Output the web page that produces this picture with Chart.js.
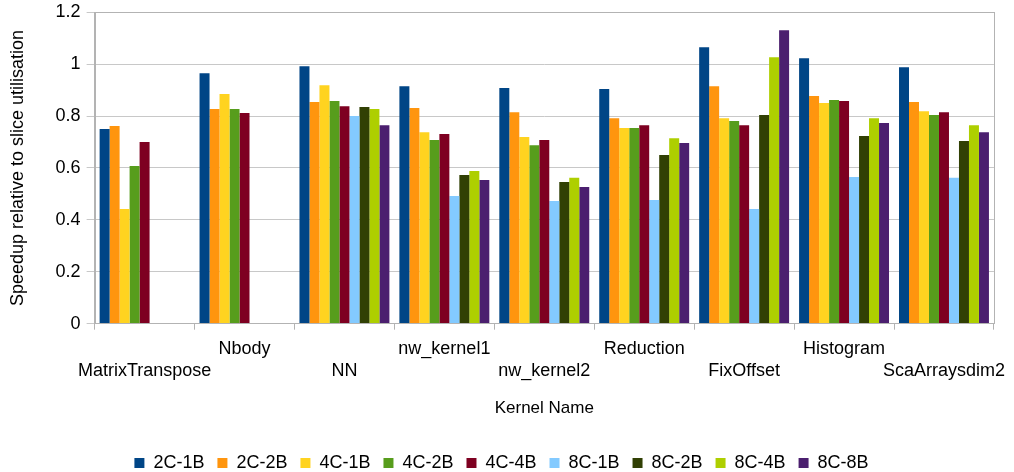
<!DOCTYPE html>
<html>
<head>
<meta charset="utf-8">
<script src="https://cdn.jsdelivr.net/npm/chart.js@4"></script>
<style>
  html, body { margin: 0; padding: 0; background: #ffffff; }
  #wrap { width: 1014px; height: 472px; }
</style>
</head>
<body>
<div id="wrap"><canvas id="speedupChart"></canvas></div>
<script>
const kernels = ['MatrixTranspose', 'Nbody', 'NN', 'nw_kernel1', 'nw_kernel2', 'Reduction', 'FixOffset', 'Histogram', 'ScaArraysdim2'];
const seriesNames = ['2C-1B', '2C-2B', '4C-1B', '4C-2B', '4C-4B', '8C-1B', '8C-2B', '8C-4B', '8C-8B'];
const seriesColors = ['#004586', '#ff950e', '#ffd320', '#579d1c', '#7e0021', '#83caff', '#314004', '#aecf00', '#4b1f6f'];

const s2C1B = [0.750, 0.965, 0.992, 0.915, 0.908, 0.904, 1.065, 1.023, 0.988];
const s2C2B = [0.762, 0.827, 0.854, 0.831, 0.815, 0.792, 0.915, 0.877, 0.854];
const s4C1B = [0.442, 0.885, 0.919, 0.738, 0.719, 0.754, 0.792, 0.850, 0.819];
const s4C2B = [0.608, 0.827, 0.858, 0.708, 0.688, 0.754, 0.781, 0.862, 0.804];
const s4C4B = [0.700, 0.812, 0.838, 0.731, 0.708, 0.765, 0.765, 0.858, 0.815];
const s8C1B = [null, null, 0.800, 0.492, 0.473, 0.477, 0.442, 0.565, 0.562];
const s8C2B = [null, null, 0.835, 0.573, 0.546, 0.650, 0.804, 0.723, 0.704];
const s8C4B = [null, null, 0.827, 0.588, 0.562, 0.715, 1.027, 0.792, 0.765];
const s8C8B = [null, null, 0.765, 0.554, 0.527, 0.696, 1.131, 0.773, 0.738];

const yTicks = [0, 0.2, 0.4, 0.6, 0.8, 1, 1.2];

const allSeries = [s2C1B, s2C2B, s4C1B, s4C2B, s4C4B, s8C1B, s8C2B, s8C4B, s8C8B];
const fontFamily = '"Liberation Sans", Arial, sans-serif';

// draws the frame round the plot area (right edge has no axis of its own)
const frame = {
    id: 'frame',
    afterDraw(chart) {
        const a = chart.chartArea;
        const ctx = chart.ctx;
        ctx.save();
        ctx.strokeStyle = '#b3b3b3';
        ctx.lineWidth = 1;
        ctx.strokeRect(Math.round(a.left) + 0.5, Math.round(a.top) + 0.5, Math.round(a.right - a.left), Math.round(a.bottom - a.top));
        ctx.restore();
    }
};

const ctx = document.getElementById('speedupChart').getContext('2d');
new Chart(ctx, {
    type: 'bar',
    data: {
        labels: kernels,
        datasets: seriesNames.map((name, i) => ({
            label: name,
            data: allSeries[i],
            backgroundColor: seriesColors[i],
            borderWidth: 0,
            categoryPercentage: 0.9,
            barPercentage: 1.0
        }))
    },
    options: {
        responsive: true,
        maintainAspectRatio: false,
        animation: false,
        layout: {
            padding: { top: 0, right: 18, left: 7, bottom: -10 }
        },
        plugins: {
            legend: {
                position: 'bottom',
                labels: {
                    color: '#000000',
                    boxWidth: 10,
                    boxHeight: 10,
                    padding: 13,
                    font: { family: fontFamily, size: 18 }
                }
            },
            tooltip: { enabled: false }
        },
        scales: {
            x: {
                grid: {
                    drawOnChartArea: false,
                    color: '#b3b3b3',
                    tickLength: 6,
                    offset: true
                },
                border: { color: '#b3b3b3' },
                ticks: {
                    color: '#000000',
                    autoSkip: false,
                    maxRotation: 0,
                    minRotation: 0,
                    padding: 8,
                    font: { family: fontFamily, size: 18, lineHeight: 1.22 },
                    callback: function (value, index) {
                        const name = kernels[index];
                        return index % 2 === 0 ? ['', name] : [name];
                    }
                },
                title: {
                    display: true,
                    text: 'Kernel Name',
                    color: '#000000',
                    font: { family: fontFamily, size: 17 },
                    padding: { top: 9, bottom: 22 }
                }
            },
            y: {
                min: 0,
                max: 1.2,
                afterBuildTicks: axis => {
                    axis.ticks = yTicks.map(v => ({ value: v }));
                },
                grid: {
                    color: '#c8c8c8',
                    tickLength: 8
                },
                border: { color: '#b3b3b3' },
                ticks: {
                    color: '#000000',
                    padding: 6,
                    font: { family: fontFamily, size: 18, lineHeight: 0.7 },
                    callback: v => String(v)
                },
                title: {
                    display: true,
                    text: 'Speedup relative to slice utilisation',
                    color: '#000000',
                    font: { family: fontFamily, size: 18 },
                    padding: { top: 0, bottom: 21 }
                }
            }
        }
    },
    plugins: [frame]
});
</script>
</body>
</html>
